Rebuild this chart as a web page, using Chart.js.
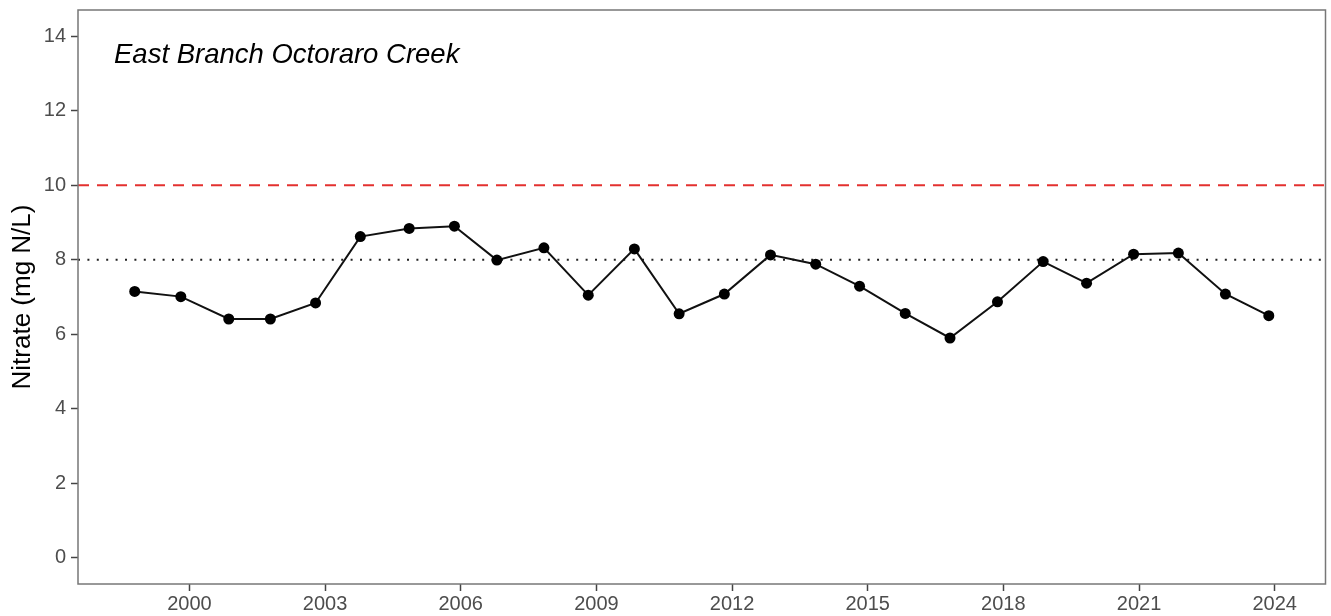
<!DOCTYPE html>
<html lang="en">
<head>
<meta charset="UTF-8">
<title>Nitrate – East Branch Octoraro Creek</title>
<script src="https://cdn.jsdelivr.net/npm/chart.js"></script>
<style>
  html, body { margin: 0; padding: 0; background: #fff; }
  #wrap { width: 1331px; height: 616px; }
</style>
</head>
<body>
<div id="wrap"><canvas id="chart"></canvas></div>

<script>
  // annual nitrate samples (decimal year of sampling)
  const sampleYears = [1998.79, 1999.81, 2000.87, 2001.79, 2002.79, 2003.78, 2004.86, 2005.86, 2006.80,
    2007.84, 2008.82, 2009.84, 2010.83, 2011.83, 2012.85, 2013.85, 2014.82, 2015.83, 2016.82,
    2017.87, 2018.88, 2019.84, 2020.88, 2021.87, 2022.91, 2023.87];
  const nitrate = [7.15, 7.01, 6.41, 6.41, 6.84, 8.62, 8.84, 8.90, 7.99,
    8.32, 7.05, 8.29, 6.55, 7.08, 8.13, 7.88, 7.29, 6.56, 5.90,
    6.87, 7.95, 7.37, 8.15, 8.18, 7.08, 6.50];

  const yearTicks = [2000, 2003, 2006, 2009, 2012, 2015, 2018, 2021, 2024];
  const nitrateTicks = [0, 2, 4, 6, 8, 10, 12, 14];

  const mclLevel = 10;   // drinking water standard
  const refLevel = 8;
  const siteName = 'East Branch Octoraro Creek';

  // ggplot-style 5% padding around the data range
  const span = sampleYears[sampleYears.length - 1] - sampleYears[0];
  const xMin = sampleYears[0] - span * 0.05;
  const xMax = sampleYears[sampleYears.length - 1] + span * 0.05;

  const FONT = '"Liberation Sans", Arial, sans-serif';
  const BORDER_GREY = '#777';
  const TICK_GREY = '#444';

  const panel = {
    id: 'panel',
    afterDraw(chart) {
      const { ctx, chartArea: a } = chart;
      ctx.save();
      ctx.strokeStyle = BORDER_GREY;
      ctx.lineWidth = 1.5;
      ctx.strokeRect(a.left, a.top, a.right - a.left, a.bottom - a.top);
      ctx.fillStyle = '#000';
      ctx.font = 'italic 27.5px ' + FONT;
      ctx.textBaseline = 'alphabetic';
      ctx.fillText(siteName, a.left + 36, a.top + 53);
      ctx.restore();
    }
  };

  const axisGrid = {
    display: true,
    drawOnChartArea: false,
    drawTicks: true,
    tickLength: 7,
    tickWidth: 1.5,
    tickColor: TICK_GREY
  };

  // keep the panel edges where the layout padding puts them
  const noEdgePadding = s => {
    s.paddingTop = 0; s.paddingBottom = 0;
    s.paddingLeft = 0; s.paddingRight = 0;
  };

  new Chart(document.getElementById('chart'), {
    type: 'line',
    data: {
      datasets: [
        {
          data: sampleYears.map((x, i) => ({ x, y: nitrate[i] })),
          borderColor: '#111',
          borderWidth: 2,
          pointRadius: 5.5,
          pointBackgroundColor: '#000',
          pointBorderWidth: 0,
          tension: 0
        },
        {
          data: [{ x: xMin, y: refLevel }, { x: xMax, y: refLevel }],
          borderColor: '#222',
          borderWidth: 2,
          borderDash: [2, 7.4],
          pointRadius: 0
        },
        {
          data: [{ x: xMin, y: mclLevel }, { x: xMax, y: mclLevel }],
          borderColor: '#e3312f',
          borderWidth: 2,
          borderDash: [11, 8],
          pointRadius: 0
        }
      ]
    },
    options: {
      responsive: true,
      maintainAspectRatio: false,
      animation: false,
      devicePixelRatio: 1,
      layout: { padding: { top: 10, right: 0, left: 0, bottom: 0 } },
      plugins: { legend: { display: false }, tooltip: { enabled: false } },
      scales: {
        x: {
          type: 'linear',
          min: xMin,
          max: xMax,
          grid: axisGrid,
          border: { display: false },
          afterBuildTicks: s => { s.ticks = yearTicks.map(v => ({ value: v })); },
          afterFit: s => { s.height = 32; noEdgePadding(s); },
          ticks: {
            color: '#4d4d4d',
            font: { family: FONT, size: 20 },
            padding: 1,
            maxRotation: 0,
            callback: v => String(v)
          }
        },
        y: {
          min: -0.7,
          max: 14.7,
          grid: axisGrid,
          border: { display: false },
          afterBuildTicks: s => { s.ticks = nitrateTicks.map(v => ({ value: v })); },
          afterFit: s => { s.width = 78; noEdgePadding(s); },
          ticks: {
            color: '#4d4d4d',
            font: { family: FONT, size: 20 },
            padding: 5,
            callback: v => String(v)
          },
          title: {
            display: true,
            text: 'Nitrate (mg N/L)',
            color: '#000',
            font: { family: FONT, size: 26 },
            padding: { top: 7, bottom: 0 }
          }
        }
      }
    },
    plugins: [panel]
  });
</script>
</body>
</html>
